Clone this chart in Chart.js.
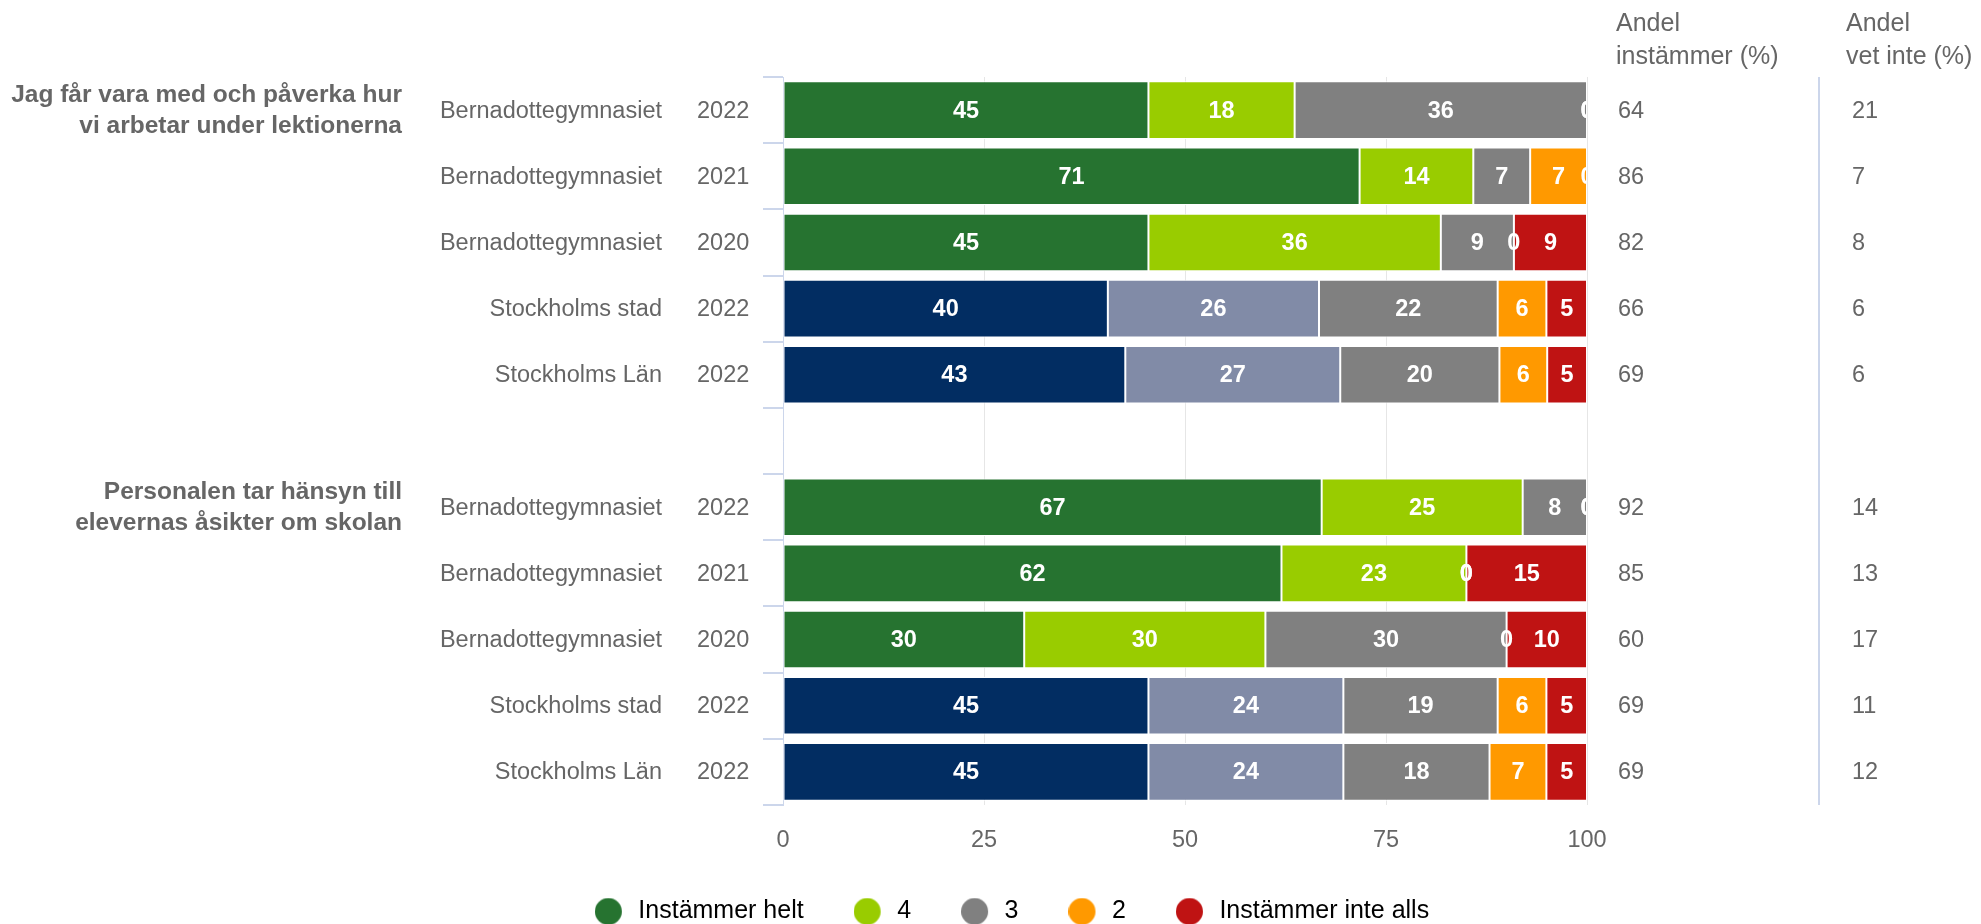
<!DOCTYPE html>
<html>
<head>
<meta charset="utf-8">
<script src="https://cdn.jsdelivr.net/npm/chart.js@4.4.1/dist/chart.umd.min.js"></script>
<style>
  html, body { margin: 0; padding: 0; background: #fff; }
</style>
</head>
<body>
<canvas id="chart" width="1981" height="924"></canvas>
<script>
// ========== Data ==========
const schools = ['Bernadottegymnasiet', 'Bernadottegymnasiet', 'Bernadottegymnasiet', 'Stockholms stad', 'Stockholms Län', '',
                 'Bernadottegymnasiet', 'Bernadottegymnasiet', 'Bernadottegymnasiet', 'Stockholms stad', 'Stockholms Län'];
const years = ['2022', '2021', '2020', '2022', '2022', '', '2022', '2021', '2020', '2022', '2022'];
const questions = [
    ['Jag får vara med och påverka hur', 'vi arbetar under lektionerna'],
    ['Personalen tar hänsyn till', 'elevernas åsikter om skolan']
];
const questionRows = [0, 6];

const seriesNames = ['Instämmer helt', '4', '3', '2', 'Instämmer inte alls'];
const instammerHelt = [45, 71, 45, 40, 43, null, 67, 62, 30, 45, 45];
const svar4 = [18, 14, 36, 26, 27, null, 25, 23, 30, 24, 24];
const svar3 = [36, 7, 9, 22, 20, null, 8, 0, 30, 19, 18];
const svar2 = [0, 7, 0, 6, 6, null, 0, 0, 0, 6, 7];
const instammerInte = [0, 0, 9, 5, 5, null, 0, 15, 10, 5, 5];

const andelInstammer = [64, 86, 82, 66, 69, null, 92, 85, 60, 69, 69];
const andelVetInte = [21, 7, 8, 6, 6, null, 14, 13, 17, 11, 12];
const xTicks = [0, 25, 50, 75, 100];

// ========== Styling ==========
const FONT = "'Liberation Sans', Arial, Helvetica, sans-serif";
Chart.defaults.font.family = FONT;

const series = [instammerHelt, svar4, svar3, svar2, instammerInte];
const isRegion = i => schools[i].startsWith('Stockholm');
const palette = [
    i => isRegion(i) ? '#022d62' : '#267330',
    i => isRegion(i) ? '#818ba7' : '#99cc00',
    () => '#808080',
    () => '#ff9900',
    () => '#bf1313'
];

// legend dot: circle sits left in a wider box so the text gets more room
function legendDot(color) {
    const c = document.createElement('canvas');
    c.width = 31; c.height = 28;
    const g = c.getContext('2d');
    g.fillStyle = color;
    g.beginPath();
    g.arc(13.5, 14, 13.5, 0, Math.PI * 2);
    g.fill();
    return c;
}

// stacking in percent, like the original
const rowTotals = schools.map((_, i) => series.reduce((s, arr) => s + (arr[i] || 0), 0));
const percentOf = arr => arr.map((v, i) => v == null ? null : v / rowTotals[i] * 100);

const datasets = series.map((arr, k) => ({
    label: seriesNames[k],
    data: percentOf(arr),
    backgroundColor: schools.map((_, i) => palette[k](i)),
    borderColor: '#ffffff',
    borderWidth: 1,
    borderSkipped: false,
    barPercentage: 0.87,
    categoryPercentage: 1
}));

// ========== Labels and side columns ==========
const overlay = {
    id: 'overlay',
    afterDatasetsDraw(chart) {
        const { ctx, chartArea: a } = chart;
        ctx.save();
        ctx.beginPath();
        ctx.rect(a.left, a.top, a.right - a.left, a.bottom - a.top);
        ctx.clip();
        ctx.font = 'bold 23.5px ' + FONT;
        ctx.fillStyle = '#ffffff';
        ctx.textAlign = 'center';
        ctx.textBaseline = 'middle';
        series.forEach((arr, k) => {
            chart.getDatasetMeta(k).data.forEach((bar, i) => {
                if (arr[i] == null) return;
                ctx.fillText(String(arr[i]), (bar.x + bar.base) / 2, bar.y + 1);
            });
        });
        ctx.restore();
    },
    afterDraw(chart) {
        const { ctx } = chart;
        const y = chart.scales.y;
        ctx.save();
        ctx.textBaseline = 'middle';
        ctx.fillStyle = '#666666';

        // row labels
        ctx.font = '23.5px ' + FONT;
        schools.forEach((s, i) => {
            const py = y.getPixelForValue(i) + 1;
            ctx.textAlign = 'right';
            ctx.fillText(s, 662, py);
            ctx.textAlign = 'left';
            ctx.fillText(years[i], 697, py);
            if (andelInstammer[i] != null) ctx.fillText(String(andelInstammer[i]), 1618, py);
            if (andelVetInte[i] != null) ctx.fillText(String(andelVetInte[i]), 1852, py);
        });

        // question labels
        ctx.font = 'bold 24.5px ' + FONT;
        ctx.textAlign = 'right';
        questions.forEach((lines, q) => {
            const c = y.getPixelForValue(questionRows[q]);
            lines.forEach((t, j) => ctx.fillText(t, 402, c - 15 + j * 31));
        });

        // column headers
        ctx.font = '25px ' + FONT;
        ctx.textAlign = 'left';
        ctx.fillText('Andel', 1616, 24);
        ctx.fillText('instämmer (%)', 1616, 57);
        ctx.fillText('Andel', 1846, 24);
        ctx.fillText('vet inte (%)', 1846, 57);

        // separator
        ctx.strokeStyle = '#ccd6eb';
        ctx.lineWidth = 2;
        ctx.beginPath();
        ctx.moveTo(1819, y.top);
        ctx.lineTo(1819, y.bottom);
        ctx.stroke();
        ctx.restore();
    }
};

new Chart(document.getElementById('chart'), {
    type: 'bar',
    data: { labels: schools.map((s, i) => s + ' ' + years[i]), datasets },
    options: {
        indexAxis: 'y',
        responsive: false,
        animation: false,
        layout: { padding: { left: 43, right: 0, top: 77, bottom: -10 } },
        scales: {
            x: {
                stacked: true,
                min: 0,
                max: 100,
                afterBuildTicks: s => { s.ticks = xTicks.map(v => ({ value: v })); },
                afterFit: s => { s.height = 44; },
                grid: { color: '#e6e6e6', lineWidth: 1, drawTicks: false },
                border: { display: false },
                ticks: { color: '#666666', font: { size: 23.5 }, padding: 21 }
            },
            y: {
                stacked: true,
                afterFit: s => { s.width = 740; },
                grid: { offset: true, drawOnChartArea: false, drawTicks: true, tickLength: 20, color: '#ccd6eb', lineWidth: 2 },
                border: { display: true, color: '#ccd6eb', width: 1 },
                ticks: { display: false }
            },
            side: {
                type: 'linear',
                position: 'right',
                display: true,
                afterFit: s => { s.width = 394; },
                grid: { display: false },
                border: { display: false },
                ticks: { display: false }
            }
        },
        plugins: {
            legend: {
                position: 'bottom',
                labels: {
                    usePointStyle: true,
                    boxHeight: 19,
                    pointStyleWidth: 31,
                    padding: 50,
                    color: '#333333',
                    font: { size: 25 },
                    generateLabels: chart => chart.data.datasets.map((ds, k) => ({
                        text: ds.label,
                        fillStyle: ds.backgroundColor[0],
                        strokeStyle: ds.backgroundColor[0],
                        lineWidth: 0,
                        pointStyle: legendDot(ds.backgroundColor[0]),
                        hidden: false,
                        datasetIndex: k
                    }))
                }
            },
            tooltip: { enabled: false }
        }
    },
    plugins: [overlay]
});
</script>
</body>
</html>
